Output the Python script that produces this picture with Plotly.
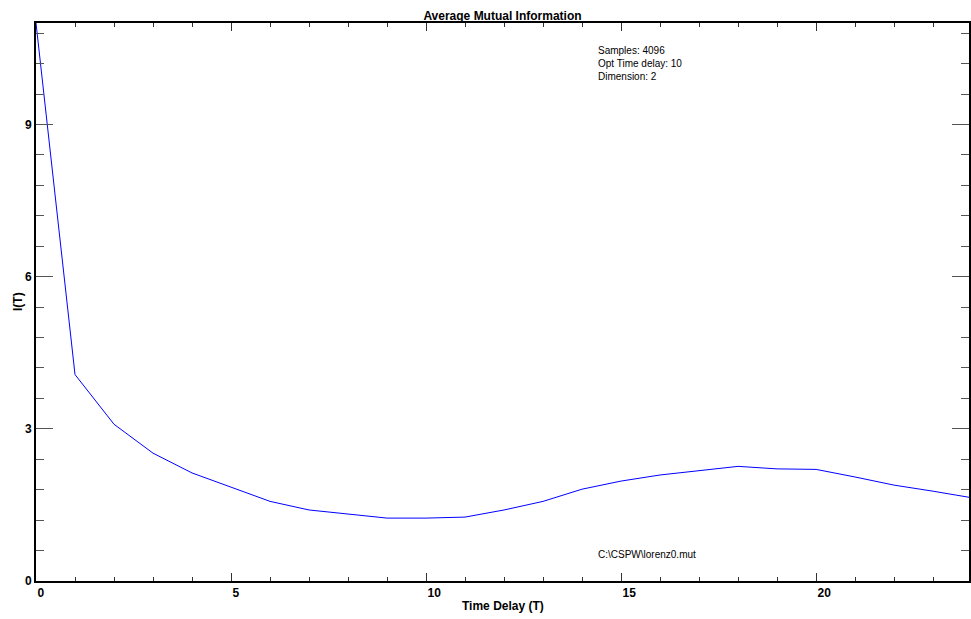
import plotly.graph_objects as go

delays = list(range(0, 25))
mutual_info = [11.0, 4.07, 3.09, 2.52, 2.13, 1.85, 1.57, 1.40, 1.32, 1.24, 1.24, 1.26,
               1.40, 1.57, 1.81, 1.97, 2.09, 2.17, 2.26, 2.21, 2.20, 2.05, 1.89, 1.77, 1.64]
x_ticks = [0, 5, 10, 15, 20]
y_ticks = [0, 3, 6, 9]
info_lines = ["Samples: 4096", "Opt Time delay: 10", "Dimension: 2"]
file_label = "C:\\CSPW\\lorenz0.mut"

fig = go.Figure()
fig.add_trace(go.Scatter(x=delays, y=mutual_info, mode="lines",
                         line=dict(color="#0000ff", width=1), showlegend=False,
                         cliponaxis=True))

bold = dict(family="Liberation Sans, Arial, sans-serif", size=12, color="black", weight="bold")

fig.update_layout(
    width=971, height=619,
    margin=dict(l=36, r=0, t=23, b=38),
    paper_bgcolor="white", plot_bgcolor="white",
    title=dict(text="Average Mutual Information", x=0.5, xref="paper", xanchor="center",
               y=1, yref="paper", yanchor="bottom", pad=dict(b=3), font=bold),
    xaxis=dict(range=[0, 23.92], tickvals=x_ticks, ticktext=[str(v) for v in x_ticks],
               ticks="inside", ticklen=8, tickwidth=1, tickcolor="#333",
               ticklabelposition="outside right",
               showline=True, linecolor="black", linewidth=2, mirror="allticks",
               showgrid=False, zeroline=False, tickfont=bold,
               minor=dict(dtick=1, tick0=0, ticks="inside", ticklen=4, tickcolor="#333", showgrid=False)),
    yaxis=dict(range=[0, 11], tickvals=y_ticks, ticktext=[str(v) for v in y_ticks],
               ticks="inside", ticklen=17, tickwidth=1, tickcolor="#555",
               showline=True, linecolor="black", linewidth=2, mirror="allticks",
               showgrid=False, zeroline=False, tickfont=bold,
               minor=dict(dtick=0.6, tick0=0, ticks="inside", ticklen=8, tickcolor="#555", showgrid=False)),
)

fig.add_annotation(text="Time Delay (T)", xref="paper", yref="paper", x=0.5, y=0,
                   xanchor="center", yanchor="top", yshift=-16, showarrow=False, font=bold)
fig.add_annotation(text="I(T)", xref="paper", yref="paper", x=0, y=0.5, xshift=-18,
                   xanchor="center", yanchor="middle", textangle=-90, showarrow=False, font=bold)

small = dict(family="Liberation Sans, Arial, sans-serif", size=10, color="black")
fig.add_annotation(text="<br>".join(info_lines), xref="x", yref="y", x=14.35, y=10.6,
                   xanchor="left", yanchor="top", align="left", showarrow=False, font=small)
fig.add_annotation(text=file_label, xref="x", yref="y", x=14.35, y=0.53,
                   xanchor="left", yanchor="middle", align="left", showarrow=False, font=small)

fig.write_html("out.html")
